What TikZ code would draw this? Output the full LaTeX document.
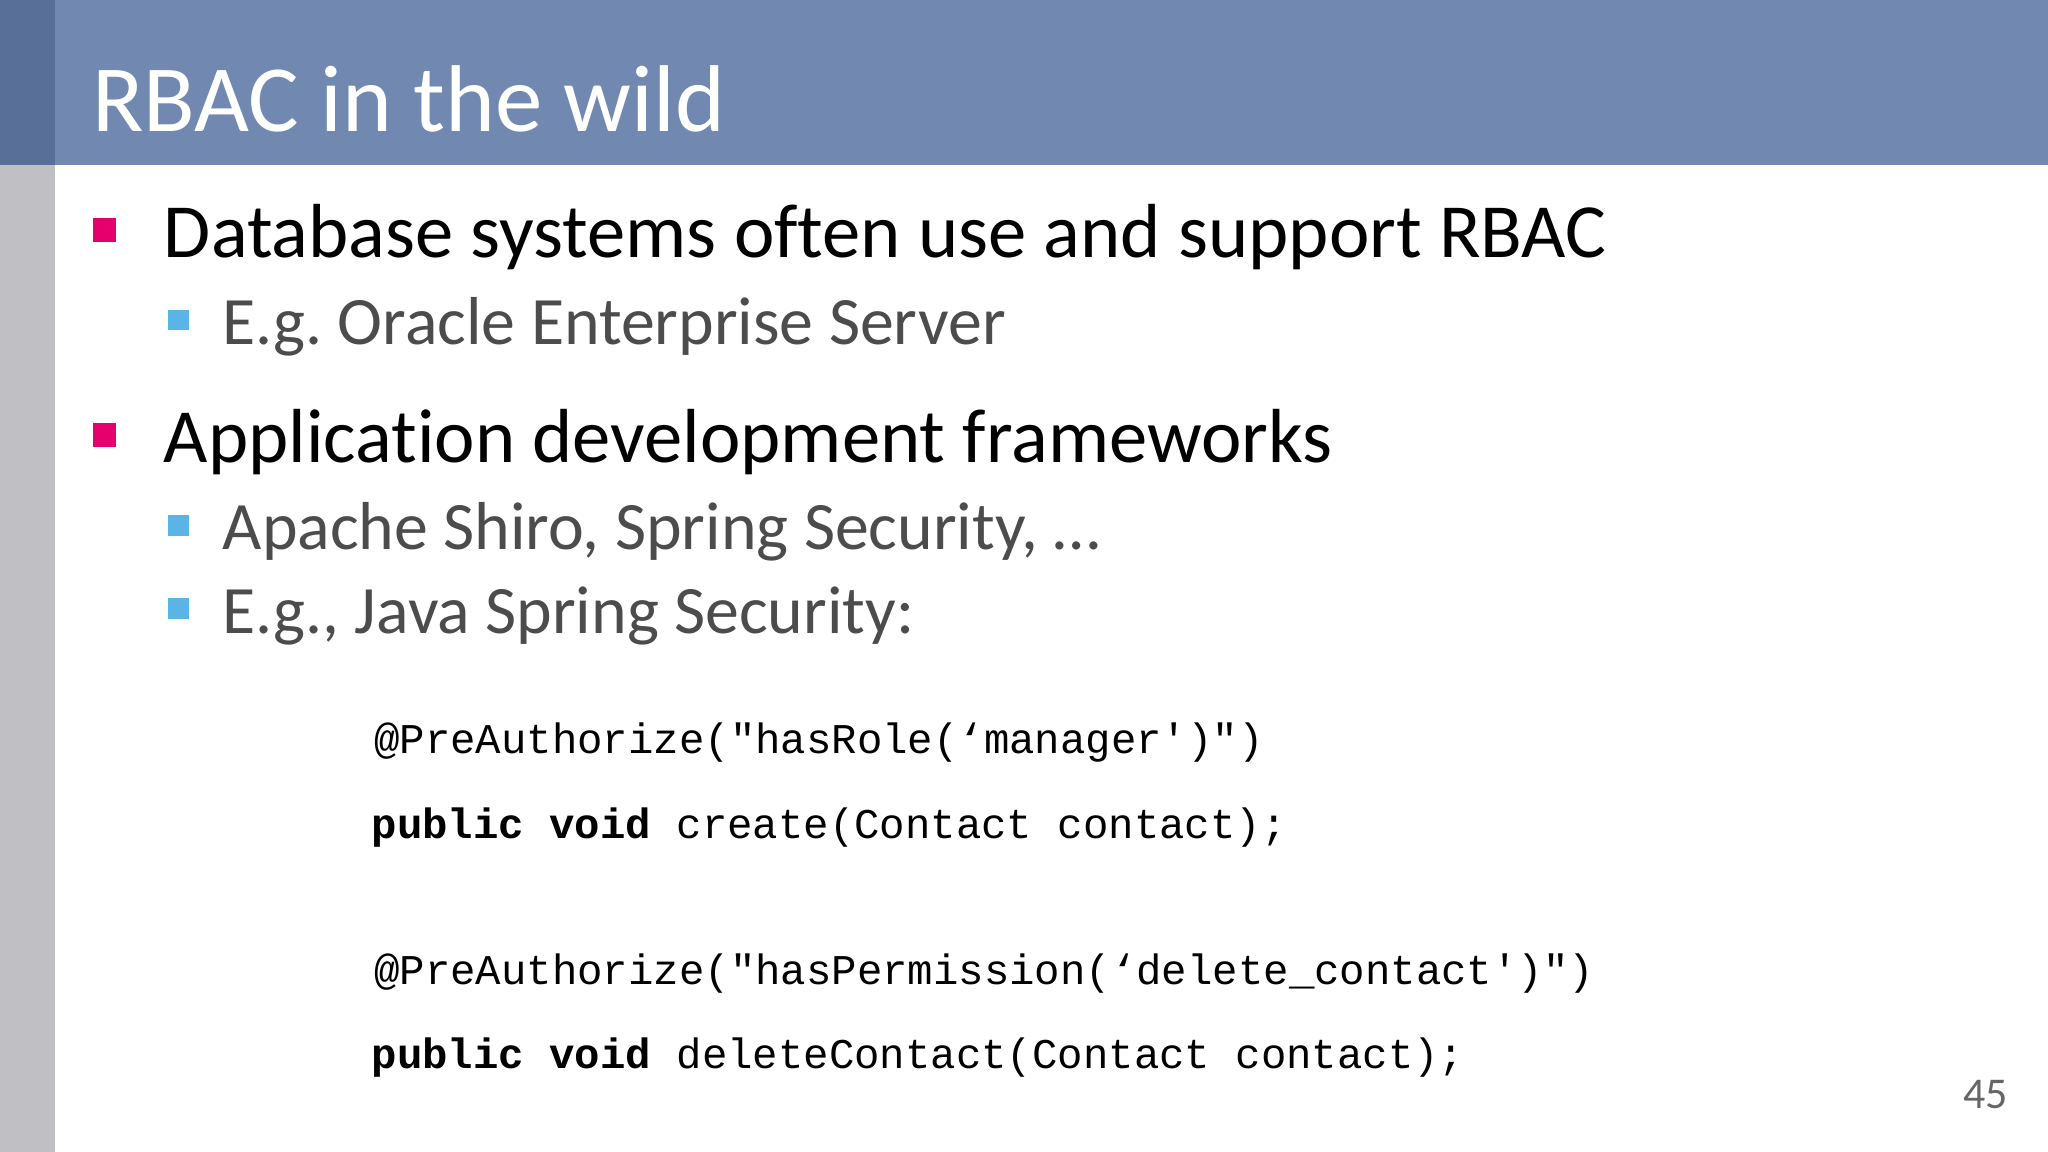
\documentclass[tikz,border=0pt]{standalone}
\usepackage{fontspec}
\setmainfont[Ligatures={NoCommon}]{Carlito}
\newfontfamily\codefont{Liberation Mono}
\frenchspacing
\begin{document}
\begin{tikzpicture}[x=0.013061cm,y=-0.013061cm,
  lvl1/.style={anchor=base west,inner sep=0pt,font=\fontsize{21.8}{24}\selectfont,text=black},
  lvl2/.style={anchor=base west,inner sep=0pt,font=\fontsize{19.3}{22}\selectfont,text=black!70},
  code/.style={anchor=base west,inner sep=0pt,font=\codefont\fontsize{12.05}{14}\selectfont}]
\useasboundingbox (0,0) rectangle (1568,882);
\fill[white] (0,0) rectangle (1568,882);
\fill[fill={rgb,255:red,113;green,137;blue,176}] (0,0) rectangle (1568,126);
\fill[fill={rgb,255:red,88;green,112;blue,152}] (0,0) rectangle (42,126);
\fill[fill={rgb,255:red,192;green,191;blue,196}] (0,126) rectangle (42,882);
\node[anchor=base west,inner sep=0pt,text=white,font=\fontsize{27}{30}\selectfont] (title) at (70,101) {RBAC in the wild};
\fill[fill={rgb,255:red,230;green,0;blue,110}] (71,167) rectangle (89,185);
\node[lvl1] (b1) at (125,197) {Database systems often use and support RBAC};
\fill[fill={rgb,255:red,90;green,180;blue,230}] (129,237) rectangle (145,253);
\node[lvl2] (s1) at (170,264) {E.g. Oracle Enterprise Server};
\fill[fill={rgb,255:red,230;green,0;blue,110}] (71,324) rectangle (89,342);
\node[lvl1] (b2) at (125,354) {Application development frameworks};
\fill[fill={rgb,255:red,90;green,180;blue,230}] (129,394) rectangle (145,410);
\node[lvl2] (s2) at (170,421) {Apache Shiro, Spring Security, …};
\fill[fill={rgb,255:red,90;green,180;blue,230}] (129,458) rectangle (145,474);
\node[lvl2] (s3) at (170,485) {E.g., Java Spring Security:};
\node[code] (c1) at (286,577) {@PreAuthorize("hasRole(‘manager')")};
\node[code] (c2) at (284,642) {\textbf{public void} create(Contact contact);};
\node[code] (c3) at (286,754) {@PreAuthorize("hasPermission(‘delete\_contact')")};
\node[code] (c4) at (284,818) {\textbf{public void} deleteContact(Contact contact);};
\node[anchor=base east,inner sep=0pt,text=black!60,font=\fontsize{12.5}{14}\selectfont] (pg) at (1538,849) {45};
\end{tikzpicture}
\end{document}
